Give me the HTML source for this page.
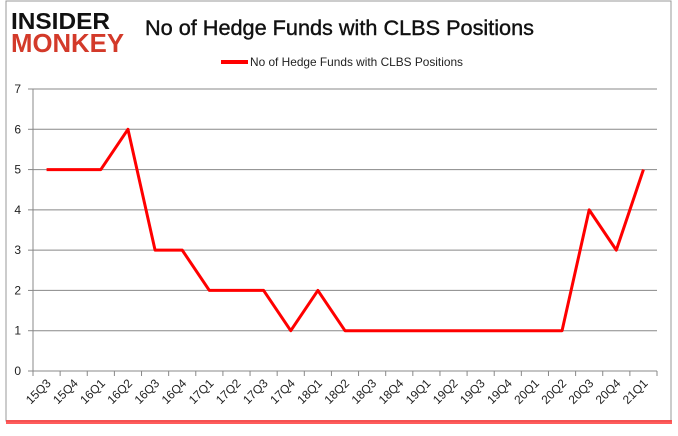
<!DOCTYPE html>
<html><head><meta charset="utf-8"><style>
body{margin:0;width:678px;height:431px;background:#fff;overflow:hidden;font-family:"Liberation Sans",sans-serif}
</style></head><body>
<svg width="678" height="431" xmlns="http://www.w3.org/2000/svg">
<rect x="6" y="1" width="665" height="420" fill="#fff" stroke="#999" stroke-width="1"/>
<rect x="6" y="420" width="666" height="4" fill="#f33" opacity="0.8"/>
<text x="11" y="29" font-size="23" font-weight="bold" fill="#111" textLength="99" lengthAdjust="spacingAndGlyphs">INSIDER</text>
<text x="11" y="52" font-size="26" font-weight="bold" fill="#d33a2a" textLength="113" lengthAdjust="spacingAndGlyphs">MONKEY</text>
<text x="145" y="35" font-size="21" fill="#111" stroke="#111" stroke-width="0.4" textLength="389" lengthAdjust="spacingAndGlyphs">No of Hedge Funds with CLBS Positions</text>
<line x1="221" y1="62" x2="248" y2="62" stroke="red" stroke-width="4"/>
<text x="250" y="66" font-size="12" fill="#222" textLength="213" lengthAdjust="spacingAndGlyphs">No of Hedge Funds with CLBS Positions</text>
<g id="grid"></g><g id="axes"></g><g id="series"></g>
</svg>
<script>
const categories=["15Q3","15Q4","16Q1","16Q2","16Q3","16Q4","17Q1","17Q2","17Q3","17Q4","18Q1","18Q2","18Q3","18Q4","19Q1","19Q2","19Q3","19Q4","20Q1","20Q2","20Q3","20Q4","21Q1"];
const values=[5,5,5,6,3,3,2,2,2,1,2,1,1,1,1,1,1,1,1,1,4,3,5];
const yTicks=[0,1,2,3,4,5,6,7];
const NS="http://www.w3.org/2000/svg";
const x0=33,x1=657,y0=371,yTop=89,yMax=7;
const step=(x1-x0)/categories.length;
const X=i=>x0+step*(i+0.5);
const Y=v=>y0-(y0-yTop)*v/yMax;
function mk(tag,attrs,parent){const e=document.createElementNS(NS,tag);for(const k in attrs)e.setAttribute(k,attrs[k]);document.getElementById(parent).appendChild(e);return e;}
yTicks.forEach(t=>{
 const l=mk('line',{x1:x0,x2:x1,y1:Y(t),y2:Y(t),stroke:'#888','stroke-width':1},'grid');
 
 
 const tk=mk('line',{x1:x0-5,x2:x0,y1:Y(t),y2:Y(t),stroke:'#888'},'axes');
 
 
 const tx=mk('text',{x:x0-12,y:Y(t)+4,'font-size':12,'text-anchor':'end',fill:'#222'},'axes');
 tx.textContent=t;
 
 
});
const ya=mk('line',{x1:x0,x2:x0,y1:yTop,y2:y0,stroke:'#888'},'axes');


for(let i=0;i<=categories.length;i++){
 const tk=mk('line',{x1:x0+step*i,x2:x0+step*i,y1:y0,y2:y0+5,stroke:'#888'},'axes');
 
 
}
categories.forEach((c,i)=>{
 const x=X(i)+5,y=y0+13;
 const tx=mk('text',{x:x,y:y,'font-size':12,'text-anchor':'end',fill:'#222',transform:`rotate(-45 ${x} ${y})`},'axes');
 tx.textContent=c;
 
 
});
const pl=mk('polyline',{points:values.map((v,i)=>X(i)+','+Y(v)).join(' '),fill:'none',stroke:'red','stroke-width':3,'stroke-linejoin':'round'},'series');


</script>
</body></html>
